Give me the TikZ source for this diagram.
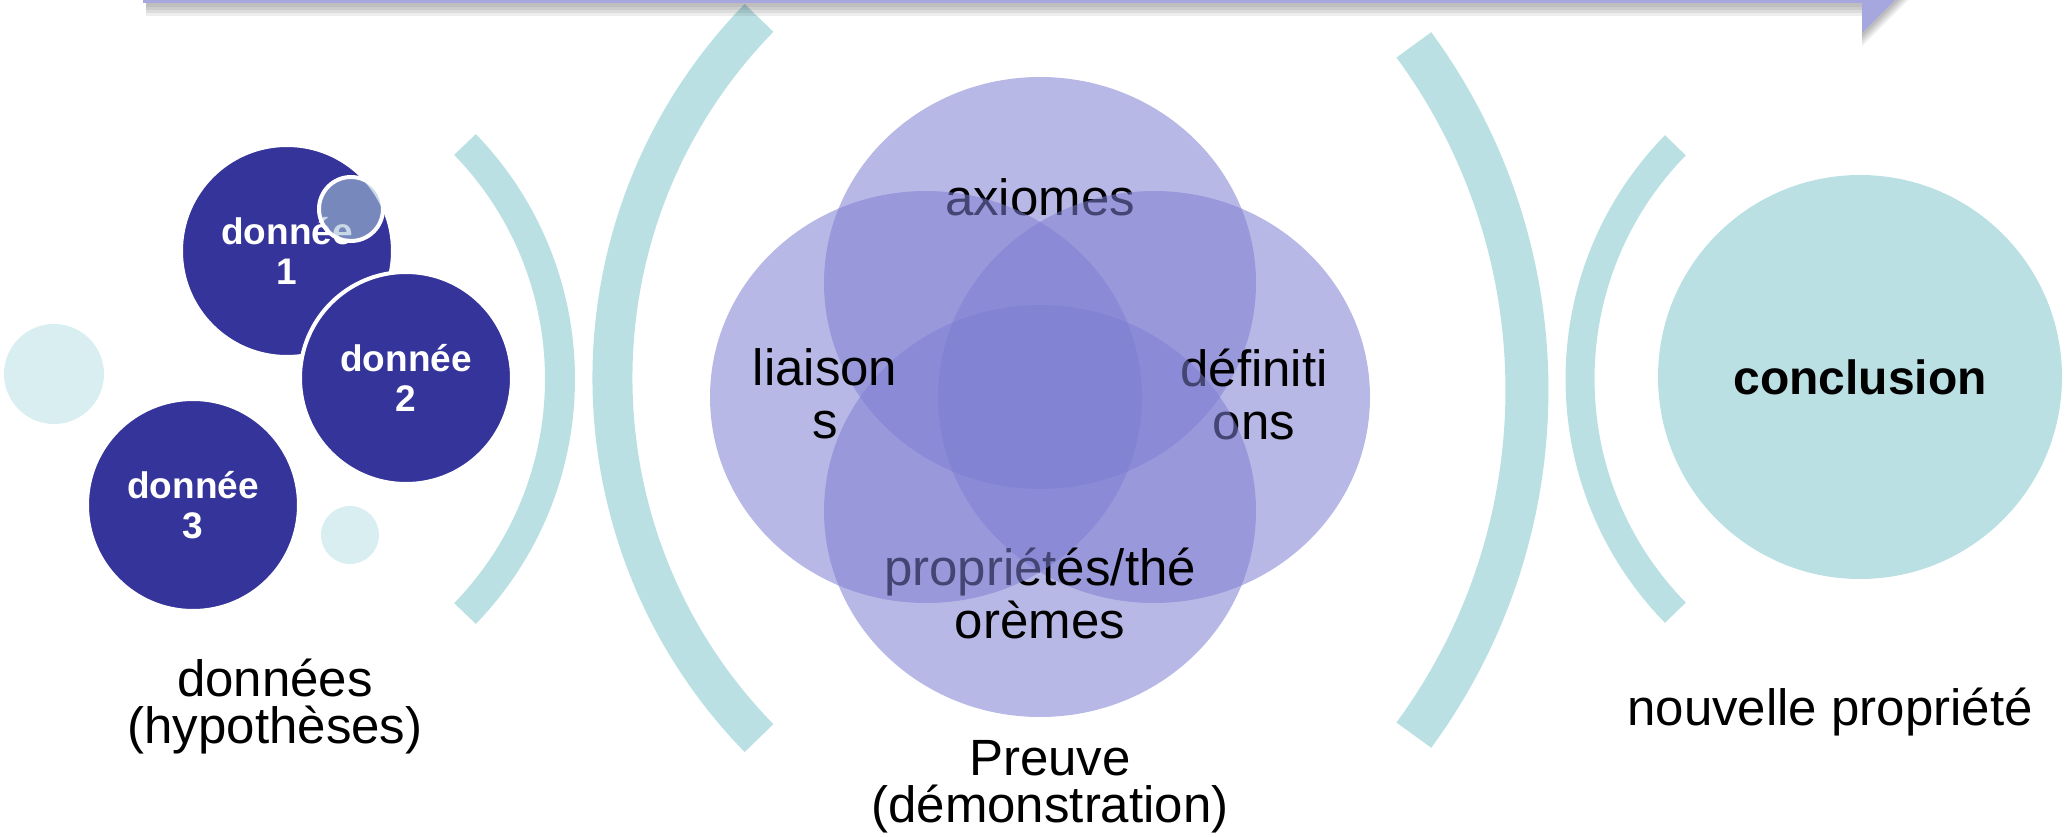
\documentclass[tikz,border=0pt]{standalone}
\usepackage{fontspec}
\setmainfont{Liberation Sans}
\usepackage{tikz}
\usetikzlibrary{shapes.geometric}
\definecolor{navy}{RGB}{53,52,154}
\definecolor{teal1}{RGB}{186,224,227}
\definecolor{pale}{RGB}{217,238,240}
\definecolor{lilac}{RGB}{126,126,210}
\definecolor{arrowc}{RGB}{165,167,222}
\definecolor{mist}{RGB}{164,193,213}

\begin{document}
\begin{tikzpicture}[x=1pt,y=-1pt,
  datum/.style={circle, fill=navy, draw=white, line width=4, minimum size=212, inner sep=0,
    text=white, align=center, font=\fontsize{37}{40}\selectfont\bfseries},
  venn/.style={fill=lilac, fill opacity=0.55},
  venntext/.style={align=center, inner sep=0, font=\fontsize{51}{53}\selectfont},
  caption/.style={align=center, inner sep=0, font=\fontsize{51}{47}\selectfont},
  bracket/.style={draw=teal1}]
\useasboundingbox (0,0) rectangle (2071,837);

% donnees
\fill[pale] (54,374) circle[radius=50];
\fill[pale] (350,535) circle[radius=29];
\node[datum] (d1) at (287,251) {donnée\\1};
\draw[white, line width=4, fill=mist, fill opacity=0.6] (351,209) circle[radius=32];
\node[datum] (d2) at (406,378) {donnée\\2};
\node[datum] (d3) at (193,505) {donnée\\3};

\draw[bracket, line width=30] (223,379) ++(-44.1:337) arc[start angle=-44.1, end angle=44.1, radius=337];
\draw[bracket, line width=40] (1128,378) ++(135.7:515.6) arc[start angle=135.7, end angle=224.3, radius=515.6];

% preuve
\fill[venn] (1040,283) ellipse[x radius=216, y radius=206];
\node[venntext] (ax) at (1040,197) {axiomes};
\fill[venn] (1154,397) ellipse[x radius=216, y radius=206];
\node[venntext] (def) at (1254,394) {définiti\\ons};
\fill[venn] (1040,511) ellipse[x radius=216, y radius=206];
\node[venntext] (prop) at (1040,593) {propriétés/thé\\orèmes};
\fill[venn] (926,397) ellipse[x radius=216, y radius=206];
\node[venntext] (li) at (825,394) {liaison\\s};

\draw[bracket, line width=43] (944,390) ++(-36.3:583) arc[start angle=-36.3, end angle=36.3, radius=583];
\draw[bracket, line width=29] (1914,379) ++(135.6:334) arc[start angle=135.6, end angle=224.4, radius=334];

% conclusion
\node[circle, fill=teal1, minimum size=404, inner sep=0, font=\fontsize{48}{52}\selectfont\bfseries] (c) at (1860,377) {conclusion};

\node[caption] (hyp) at (275,707) {données\\(hypothèses)};
\node[caption] (dem) at (1050,787) {Preuve\\(démonstration)};
\node[caption] (np) at (1830,712) {nouvelle propriété};

% fleche
\foreach \s in {4,7,10,13}
  \fill[black, opacity=0.07, shift={(0,\s)}] (146,-20) -- (1862,-20) -- (1862,-67) -- (1912,-17) -- (1862,33) -- (1862,3) -- (146,3) -- cycle;
\fill[arrowc] (143,-20) -- (1862,-20) -- (1862,-67) -- (1912,-17) -- (1862,33) -- (1862,3) -- (143,3) -- cycle;
\end{tikzpicture}
\end{document}
